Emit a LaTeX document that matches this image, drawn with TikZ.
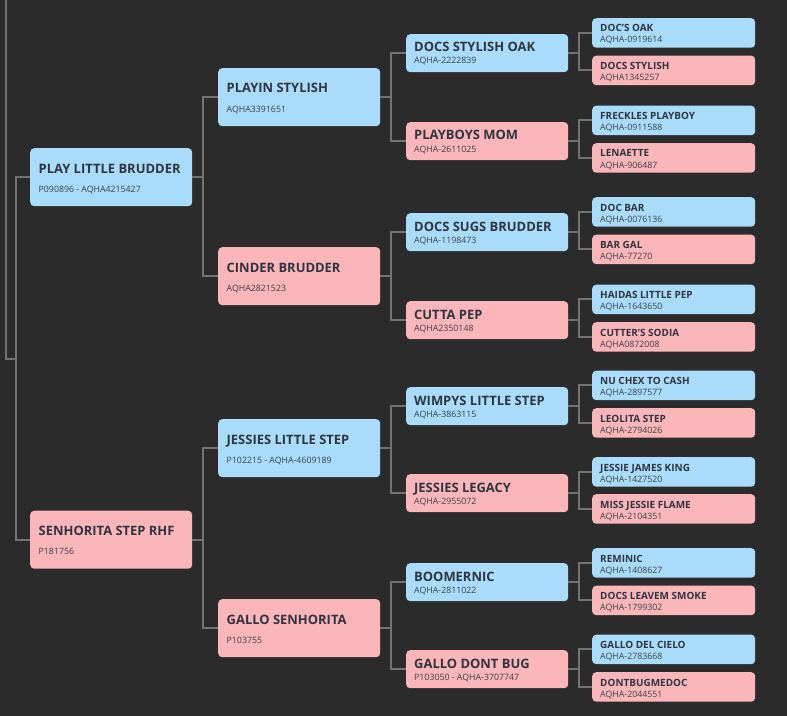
\documentclass[tikz,border=0pt]{standalone}
\usepackage{fontspec}
\setmainfont{Open Sans}
\definecolor{bg}{HTML}{2B2B2B}
\definecolor{linec}{HTML}{737373}
\definecolor{sire}{HTML}{A8DCFA}
\definecolor{dam}{HTML}{FAB6B9}
\definecolor{txt}{HTML}{2F3540}
\definecolor{idtxt}{HTML}{3A3F47}
\tikzset{
  box/.style={rounded corners=4bp, inner sep=0pt, anchor=north west, draw=none},
  sirebox/.style={box, fill=sire},
  dambox/.style={box, fill=dam},
  bigname/.style={anchor=base west, inner sep=0pt, text=txt, font=\fontsize{13}{15}\selectfont\bfseries},
  smallname/.style={anchor=base west, inner sep=0pt, text=txt, font=\fontsize{10}{12}\selectfont\bfseries},
  idtext/.style={anchor=base west, inner sep=0pt, text=idtxt, font=\fontsize{8.8}{10}\selectfont},
  conn/.style={draw=linec, line width=2bp}
}
% big box (gen 1 and 2)
\newcommand\bigbox[6]{%
  \node[#4, minimum width=162bp, minimum height=58bp] (#1) at (#2,#3) {};
  \node[bigname] (#1-t) at ([xshift=8.5bp,yshift=-25bp]#1.north west) {#5};
  \node[idtext] (#1-i) at ([xshift=8.5bp,yshift=-44bp]#1.north west) {#6};
}
% mid box (gen 3)
\newcommand\midbox[6]{%
  \node[#4, minimum width=162bp, minimum height=38bp] (#1) at (#2,#3) {};
  \node[bigname] (#1-t) at ([xshift=8bp,yshift=-18bp]#1.north west) {#5};
  \node[idtext] (#1-i) at ([xshift=8bp,yshift=-30bp]#1.north west) {#6};
}
% small box (gen 4)
\newcommand\smallbox[6]{%
  \node[#4, minimum width=163bp, minimum height=29.5bp] (#1) at (#2,#3) {};
  \node[smallname] (#1-t) at ([xshift=8bp,yshift=-14bp]#1.north west) {#5};
  \node[idtext] (#1-i) at ([xshift=8bp,yshift=-25bp]#1.north west) {#6};
}
\begin{document}
\begin{tikzpicture}[x=1bp,y=-1bp]
\fill[bg] (0,0) rectangle (787,716);
\useasboundingbox (0,0) rectangle (787,716);

% generation 1
\bigbox{a}{30}{148}{sirebox}{PLAY LITTLE BRUDDER}{P090896 - AQHA4215427}
\bigbox{b}{30}{510.5}{dambox}{SENHORITA STEP RHF}{P181756}

% generation 2
\bigbox{aa}{218}{68}{sirebox}{PLAYIN STYLISH}{AQHA3391651}
\bigbox{ab}{218}{247}{dambox}{CINDER BRUDDER}{AQHA2821523}
\bigbox{ba}{218}{419}{sirebox}{JESSIES LITTLE STEP}{P102215 - AQHA-4609189}
\bigbox{bb}{218}{599}{dambox}{GALLO SENHORITA}{P103755}

% generation 3
\midbox{aaa}{406}{34}{sirebox}{DOCS STYLISH OAK}{AQHA-2222839}
\midbox{aab}{406}{122}{dambox}{PLAYBOYS MOM}{AQHA-2611025}
\midbox{aba}{406}{213}{sirebox}{DOCS SUGS BRUDDER}{AQHA-1198473}
\midbox{abb}{406}{301}{dambox}{CUTTA PEP}{AQHA2350148}
\midbox{baa}{406}{387}{sirebox}{WIMPYS LITTLE STEP}{AQHA-3863115}
\midbox{bab}{406}{474}{dambox}{JESSIES LEGACY}{AQHA-2955072}
\midbox{bba}{406}{563}{sirebox}{BOOMERNIC}{AQHA-2811022}
\midbox{bbb}{406}{650}{dambox}{GALLO DONT BUG}{P103050 - AQHA-3707747}

% generation 4
\smallbox{aaaa}{592}{18}{sirebox}{DOC'S OAK}{AQHA-0919614}
\smallbox{aaab}{592}{55.5}{dambox}{DOCS STYLISH}{AQHA1345257}
\smallbox{aaba}{592}{105.5}{sirebox}{FRECKLES PLAYBOY}{AQHA-0911588}
\smallbox{aabb}{592}{143}{dambox}{LENAETTE}{AQHA-906487}
\smallbox{abaa}{592}{197}{sirebox}{DOC BAR}{AQHA-0076136}
\smallbox{abab}{592}{234.5}{dambox}{BAR GAL}{AQHA-77270}
\smallbox{abba}{592}{284.5}{sirebox}{HAIDAS LITTLE PEP}{AQHA-1643650}
\smallbox{abbb}{592}{322}{dambox}{CUTTER'S SODIA}{AQHA0872008}
\smallbox{baaa}{592}{370.5}{sirebox}{NU CHEX TO CASH}{AQHA-2897577}
\smallbox{baab}{592}{408}{dambox}{LEOLITA STEP}{AQHA-2794026}
\smallbox{baba}{592}{457}{sirebox}{JESSIE JAMES KING}{AQHA-1427520}
\smallbox{babb}{592}{494}{dambox}{MISS JESSIE FLAME}{AQHA-2104351}
\smallbox{bbaa}{592}{548}{sirebox}{REMINIC}{AQHA-1408627}
\smallbox{bbab}{592}{585.5}{dambox}{DOCS LEAVEM SMOKE}{AQHA-1799302}
\smallbox{bbba}{592}{634.5}{sirebox}{GALLO DEL CIELO}{AQHA-2783668}
\smallbox{bbbb}{592}{672}{dambox}{DONTBUGMEDOC}{AQHA-2044551}

% connectors: root to generation 1
\coordinate (top) at (6,0);
\coordinate (join) at (16,358.5);
\draw[conn] (top) |- (join);
\draw[conn] (a.west) -- ++(-14,0) |- (b.west);

% generation 1 -> 2
\foreach \p in {a,b}{
  \draw[conn] (\p.east) -- ++(11,0);
  \draw[conn] (\p a.west) -- ++(-15,0) |- (\p b.west);
}
% generation 2 -> 3
\foreach \p in {aa,ab,ba,bb}{
  \draw[conn] (\p.east) -- ++(11,0);
  \draw[conn] (\p a.west) -- ++(-15,0) |- (\p b.west);
}
% generation 3 -> 4
\foreach \p in {aaa,aab,aba,abb,baa,bab,bba,bbb}{
  \draw[conn] (\p.east) -- ++(11,0);
  \draw[conn] (\p a.west) -- ++(-13,0) |- (\p b.west);
}
\end{tikzpicture}
\end{document}
